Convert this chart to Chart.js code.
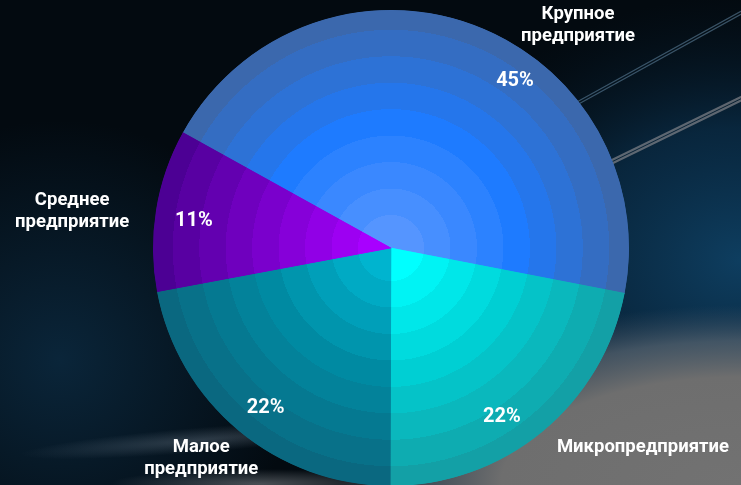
<!DOCTYPE html>
<html lang="ru">
<head>
    <meta charset="UTF-8">
    <title>Структура предприятий</title>
    <script src="https://cdn.jsdelivr.net/npm/chart.js"></script>
    <style>
        html, body { margin: 0; padding: 0; background: #03090f; overflow: hidden; }
        canvas { display: block; }
    </style>
</head>
<body>
    <canvas id="myChart" width="741" height="485"></canvas>

    <script>
        // Data
        const categories = [
            ['Крупное', 'предприятие'],
            ['Микропредприятие'],
            ['Малое', 'предприятие'],
            ['Среднее', 'предприятие']
        ];
        const shares = [45, 22, 22, 11];
        const shareLabels = ['45%', '22%', '22%', '11%'];

        // inner / middle / outer ring colours of every slice
        const sliceColors = [
            ['#5595ff', '#1e7bff', '#3b68ad'],
            ['#00ffff', '#00cfd3', '#13a0a6'],
            ['#00b4cf', '#008aa2', '#0a6880'],
            ['#a800ff', '#7a00cc', '#4c0094']
        ];

        const PIE_RADIUS = 238;
        const BANDS = 9;

        function hexToRgb(h) {
            const n = parseInt(h.slice(1), 16);
            return [(n >> 16) & 255, (n >> 8) & 255, n & 255];
        }
        function mix(a, b, t) {
            const A = hexToRgb(a), B = hexToRgb(b);
            return 'rgb(' + A.map((v, i) => Math.round(v + (B[i] - v) * t)).join(',') + ')';
        }

        // radial gradient with hard steps -> concentric rings
        function ringGradient(ctx, cx, cy, r, cols) {
            const g = ctx.createRadialGradient(cx, cy, 0, cx, cy, r);
            const half = (BANDS - 1) / 2;
            let prev = 0;
            for (let k = 0; k < BANDS; k++) {
                const col = k <= half ? mix(cols[0], cols[1], k / half) : mix(cols[1], cols[2], (k - half) / half);
                const end = k === BANDS - 1 ? 1 : Math.min(1, (k + 1.25) / BANDS);
                g.addColorStop(prev, col);
                g.addColorStop(end, col);
                prev = end;
            }
            return g;
        }

        function sliceFill(c) {
            const area = c.chart.chartArea;
            const cols = sliceColors[c.dataIndex];
            if (!area) return cols[1];
            const cx = (area.left + area.right) / 2;
            const cy = (area.top + area.bottom) / 2;
            return ringGradient(c.chart.ctx, cx, cy, PIE_RADIUS, cols);
        }

        // background picture (dark sky with streaks)
        const backdrop = {
            id: 'backdrop',
            beforeDraw(chart) {
                const { ctx, width: w, height: h } = chart;
                ctx.save();
                ctx.fillStyle = '#030a10';
                ctx.fillRect(0, 0, w, h);

                // blue glow on the right
                ctx.save();
                ctx.translate(w, 260);
                ctx.scale(1, 0.8);
                let g = ctx.createRadialGradient(0, 0, 0, 0, 0, 330);
                g.addColorStop(0, 'rgba(14,62,96,1)');
                g.addColorStop(0.5, 'rgba(10,45,72,0.8)');
                g.addColorStop(1, 'rgba(6,25,40,0)');
                ctx.fillStyle = g;
                ctx.fillRect(-400, -400, 400, 800);
                ctx.restore();

                // blue haze lower left
                g = ctx.createRadialGradient(60, 360, 0, 60, 360, 240);
                g.addColorStop(0, 'rgba(12,44,68,0.8)');
                g.addColorStop(1, 'rgba(12,44,68,0)');
                ctx.fillStyle = g;
                ctx.fillRect(0, 0, w, h);

                // grey haze bottom right
                ctx.save();
                ctx.translate(w, h);
                ctx.scale(1, 0.45);
                g = ctx.createRadialGradient(0, 0, 0, 0, 0, 400);
                g.addColorStop(0, '#727272');
                g.addColorStop(0.6, '#6e6e6e');
                g.addColorStop(0.8, 'rgba(85,98,110,0.75)');
                g.addColorStop(1, 'rgba(60,80,100,0)');
                ctx.fillStyle = g;
                ctx.fillRect(-w, -3 * h, w, 3 * h);
                ctx.restore();

                // soft streaks bottom left
                ctx.save();
                ctx.translate(200, 440);
                ctx.rotate(-0.08);
                ctx.scale(1, 0.07);
                g = ctx.createRadialGradient(0, 0, 0, 0, 0, 180);
                g.addColorStop(0, 'rgba(120,135,150,0.35)');
                g.addColorStop(1, 'rgba(120,135,150,0)');
                ctx.fillStyle = g;
                ctx.fillRect(-200, -200, 400, 400);
                ctx.restore();

                ctx.save();
                ctx.translate(260, 484);
                ctx.scale(1, 0.1);
                g = ctx.createRadialGradient(0, 0, 0, 0, 0, 150);
                g.addColorStop(0, 'rgba(130,135,140,0.55)');
                g.addColorStop(1, 'rgba(130,135,140,0)');
                ctx.fillStyle = g;
                ctx.fillRect(-160, -160, 320, 320);
                ctx.restore();

                // thin light streaks top right
                ctx.lineCap = 'round';
                ctx.strokeStyle = 'rgba(110,150,180,0.5)';
                ctx.lineWidth = 1.2;
                [[0, 0], [0, 3]].forEach(([dx, dy]) => {
                    ctx.beginPath();
                    ctx.moveTo(575 + dx, 103 + dy);
                    ctx.lineTo(745 + dx, 9 + dy);
                    ctx.stroke();
                });
                ctx.strokeStyle = 'rgba(140,140,145,0.65)';
                ctx.lineWidth = 2.2;
                [[0, 0], [0, 3.5]].forEach(([dx, dy]) => {
                    ctx.beginPath();
                    ctx.moveTo(612 + dx, 160 + dy);
                    ctx.lineTo(745 + dx, 95 + dy);
                    ctx.stroke();
                });
                ctx.restore();
            }
        };

        // slice labels: percentages inside, names outside
        const sliceLabels = {
            id: 'sliceLabels',
            afterDatasetsDraw(chart, args, opts) {
                const { ctx } = chart;
                const meta = chart.getDatasetMeta(0);
                ctx.save();
                ctx.fillStyle = '#ffffff';
                ctx.textAlign = 'center';
                ctx.textBaseline = 'middle';
                meta.data.forEach((arc, i) => {
                    const p = arc.getProps(['x', 'y', 'startAngle', 'endAngle', 'outerRadius'], true);
                    const mid = (p.startAngle + p.endAngle) / 2;
                    const place = (o) => {
                        const a = mid + o[0] * Math.PI / 180;
                        return [p.x + Math.cos(a) * o[1], p.y + Math.sin(a) * o[1]];
                    };
                    let [x, y] = place(opts.inner[i]);
                    ctx.font = 'bold 20px Roboto';
                    ctx.fillText(shareLabels[i], x, y);

                    [x, y] = place(opts.outer[i]);
                    ctx.font = 'bold 18.5px Roboto';
                    const lines = categories[i];
                    lines.forEach((t, j) => {
                        ctx.fillText(t, x, y + (j - (lines.length - 1) / 2) * 22);
                    });
                });
                ctx.restore();
            }
        };

        const ctx = document.getElementById('myChart').getContext('2d');
        const myChart = new Chart(ctx, {
            type: 'pie',
            data: {
                labels: categories.map(c => c.join(' ')),
                datasets: [{
                    data: shares,
                    borderWidth: 1,
                    borderAlign: 'inner',
                    backgroundColor: sliceFill,
                    borderColor: sliceFill
                }]
            },
            options: {
                responsive: false,
                animation: false,
                rotation: -61,
                radius: PIE_RADIUS,
                layout: { padding: { left: 41, top: 11 } },
                plugins: {
                    legend: { display: false },
                    tooltip: { enabled: false },
                    sliceLabels: {
                        // [angle shift from slice middle (deg), distance from centre]
                        inner: [[16.6, 208], [6.1, 202], [-1.7, 203], [-1.4, 199]],
                        outer: [[20, 291], [-12.3, 321], [2.3, 283], [-2.6, 321]]
                    }
                }
            },
            plugins: [backdrop, sliceLabels]
        });
    </script>
</body>
</html>
